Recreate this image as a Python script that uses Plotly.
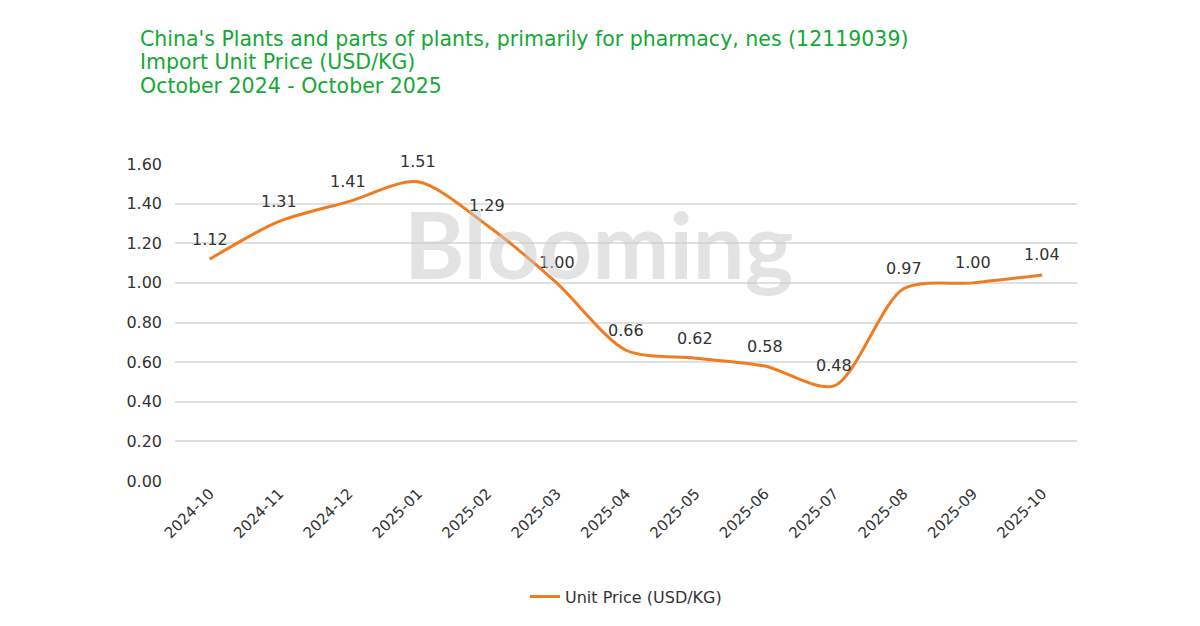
import plotly.graph_objects as go

months = ["2024-10", "2024-11", "2024-12", "2025-01", "2025-02", "2025-03", "2025-04",
          "2025-05", "2025-06", "2025-07", "2025-08", "2025-09", "2025-10"]
unit_price = [1.12, 1.31, 1.41, 1.51, 1.29, 1.00, 0.66, 0.62, 0.58, 0.48, 0.97, 1.00, 1.04]
y_ticks = [0.0, 0.2, 0.4, 0.6, 0.8, 1.0, 1.2, 1.4, 1.6]

title_lines = ["China's Plants and parts of plants, primarily for pharmacy, nes (12119039)",
               "Import Unit Price (USD/KG)",
               "October 2024 - October 2025"]

FONT = "DejaVu Sans, Noto Sans, sans-serif"
TITLE_FONT = "DejaVu Sans, Open Sans, sans-serif"

fig = go.Figure()
fig.add_trace(go.Scatter(
    x=months, y=unit_price, mode="lines",
    name="Unit Price (USD/KG)",
    line=dict(color="#f07c22", width=3, shape="spline", smoothing=0.8),
))

for m, v in zip(months, unit_price):
    fig.add_annotation(x=m, y=v, text=f"{v:.2f}", showarrow=False, yshift=20,
                       font=dict(family=FONT, size=16, color="#333333"))

fig.add_annotation(
    text="<b>Blooming</b>", xref="paper", yref="paper", x=0.47, y=0.748,
    xanchor="center", yanchor="middle",
    showarrow=False, font=dict(family="Lato, sans-serif", size=92, color="rgba(200,200,200,0.5)"),
)

for i, line in enumerate(title_lines):
    fig.add_annotation(
        text=line, xref="paper", yref="paper", x=-0.041, y=1.3956 - i * 0.0748,
        xanchor="left", yanchor="middle", align="left", showarrow=False,
        font=dict(family=TITLE_FONT, size=20.5, color="#15a835"),
    )

fig.update_layout(
    width=1200, height=626,
    margin=dict(l=175, r=123, t=164, b=141),
    paper_bgcolor="white", plot_bgcolor="white",
    showlegend=True,
    legend=dict(orientation="h", x=0.5, xanchor="center", y=-0.365, yanchor="middle",
                font=dict(family=FONT, size=16, color="#333333")),
    xaxis=dict(type="category", range=[-0.5, 12.5], tickangle=-45, showgrid=False,
               showline=False, ticks="",
               tickfont=dict(family=FONT, size=15, color="#333333")),
    yaxis=dict(range=[0, 1.6], tickvals=y_ticks, tickformat=".2f",
               showgrid=True, gridcolor="#e0e0e0", gridwidth=1.5, zeroline=False,
               showline=False, ticks="", ticklabelstandoff=12,
               tickfont=dict(family=FONT, size=16, color="#333333")),
)

fig.write_html("out.html")
